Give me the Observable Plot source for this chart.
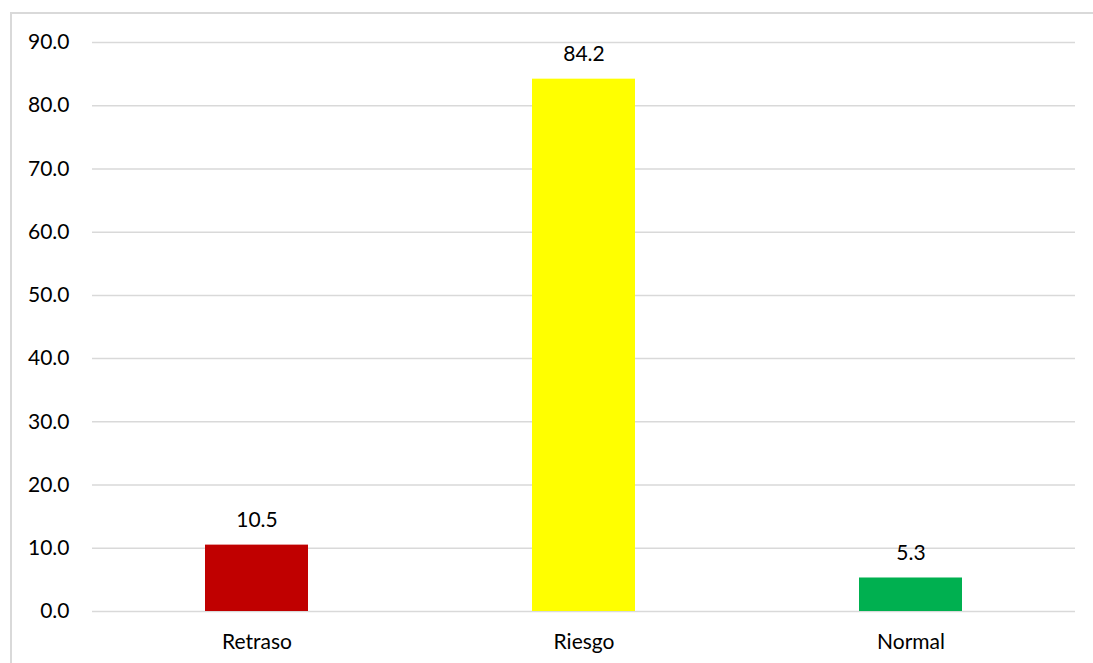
<!DOCTYPE html>
<html>
<head>
<meta charset="utf-8">
<script src="https://cdn.jsdelivr.net/npm/d3@7"></script>
<script src="https://cdn.jsdelivr.net/npm/@observablehq/plot@0.6"></script>
<style>
  html, body { margin: 0; padding: 0; background: #fff; overflow: hidden; }
  #frame { position: absolute; left: 10px; top: 12px; width: 1200px; height: 800px; border: 2px solid #d9d9d9; box-sizing: border-box; }
  #chart { position: absolute; left: 0; top: 0; }
</style>
</head>
<body>
<div id="frame"></div>
<div id="chart"></div>
<script>
const categories = ["Retraso", "Riesgo", "Normal"];
const values = [10.5, 84.2, 5.3];
const colors = ["#C00000", "#FFFF00", "#00B050"];
const yTicks = [0, 10, 20, 30, 40, 50, 60, 70, 80, 90];

const data = categories.map((c, i) => ({category: c, value: values[i], color: colors[i]}));

const chart = Plot.plot({
  width: 1093,
  height: 663,
  marginLeft: 92,
  marginRight: 18,
  marginTop: 42,
  marginBottom: 52,
  style: {fontFamily: "Lato, 'Open Sans', sans-serif", fontSize: "21px", fontWeight: 400, color: "#000", background: "transparent"},
  x: {domain: categories, paddingInner: 0.685, paddingOuter: 0.3425, label: null},
  y: {domain: [0, 90], label: null},
  marks: [
    Plot.gridY(yTicks, {stroke: "#d9d9d9", strokeOpacity: 1, strokeWidth: 1.5}),
    Plot.axisY(yTicks, {tickSize: 0, tickPadding: 23, tickFormat: d => d.toFixed(1), fontSize: 21, fill: "#000"}),
    Plot.axisX({tickSize: 0, tickPadding: 23, fontSize: 21, fill: "#000"}),
    Plot.barY(data, {x: "category", y: "value", fill: "color"}),
    Plot.text(data, {x: "category", y: "value", text: d => d.value.toFixed(1), dy: -25, fontSize: 21, fill: "#000"})
  ]
});
document.getElementById("chart").appendChild(chart);
</script>
</body>
</html>
